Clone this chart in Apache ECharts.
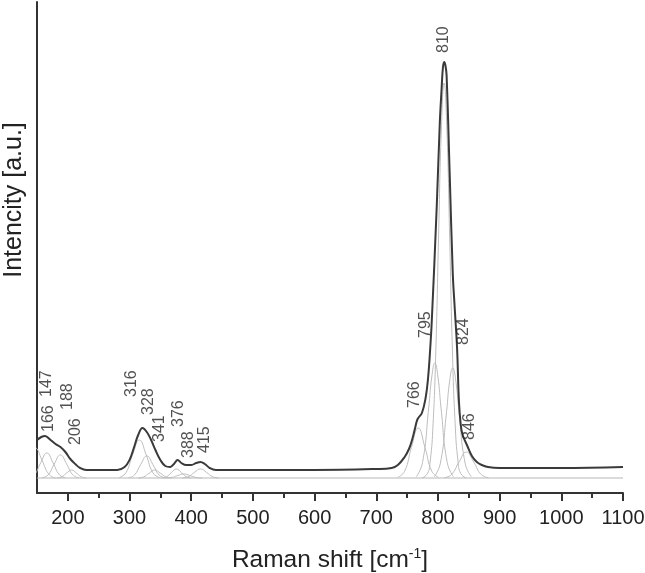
<!DOCTYPE html>
<html style="height: 100%">
<head>
    <meta charset="utf-8">
    <script src="https://cdn.jsdelivr.net/npm/echarts@6/dist/echarts.min.js"></script>
</head>
<body style="height: 100%; margin: 0; background: #fff">
    <div id="main" style="width: 645px; height: 573px"></div>
    <script type="text/javascript">
        // measured spectrum (arbitrary units)
        var total = [
            [150, 53], [157, 56], [163, 57], [172, 53], [180, 49], [188, 46], [196, 41], [204, 34],
            [212, 29], [220, 25], [230, 23], [250, 23], [280, 23], [292, 26], [300, 33], [307, 45],
            [314, 58], [321, 65], [328, 61], [335, 53], [342, 43], [350, 33], [358, 27], [366, 26],
            [372, 29], [378, 33], [384, 30], [392, 28], [400, 28], [408, 30], [415, 31], [422, 29],
            [430, 25], [440, 23], [500, 23], [600, 23], [700, 24], [725, 25], [735, 28], [746, 36],
            [753, 44], [758, 53], [763, 65], [767, 74], [774, 80], [780, 95], [784, 115], [787, 140],
            [790, 172], [798, 286], [803, 370], [806, 405], [808, 425], [810, 431], [812, 428],
            [814, 418], [819, 320], [824, 220], [827, 187], [831, 145], [834, 92], [837, 68],
            [840, 58], [847, 48], [855, 37], [863, 31], [871, 28], [881, 26], [900, 25],
            [1000, 25], [1100, 26]
        ];

        // fitted component bands
        var c147 = [[125, 19], [136, 33], [147, 45], [158, 33], [164, 24], [169, 19], [175, 16], [180, 15]];
        var c166 = [[136, 15.3], [146, 18.4], [156, 30.2], [166, 40], [176, 30.2], [186, 18.4], [196, 15.3]];
        var c188 = [[158, 15.3], [168, 18.1], [178, 29], [188, 38], [198, 29], [208, 18.1], [218, 15.3]];
        var c206 = [[182, 15], [190, 16.1], [198, 19.9], [206, 23], [214, 19.9], [222, 16.1], [230, 15]];
        var c316 = [[283, 15.4], [294, 20.1], [305, 38.2], [316, 53], [327, 38.2], [338, 20.1], [349, 15.4]];
        var c328 = [[298, 15.2], [308, 18], [318, 28.4], [328, 37], [338, 28.4], [348, 18], [358, 15.2]];
        var c341 = [[314, 15], [323, 16.1], [332, 19.9], [341, 23], [350, 19.9], [359, 16.1], [368, 15]];
        var c376 = [[352, 15], [360, 16.2], [368, 20.5], [376, 24], [384, 20.5], [392, 16.2], [400, 15]];
        var c388 = [[358, 15], [368, 15.5], [378, 17.4], [388, 19], [398, 17.4], [408, 15.5], [418, 15]];
        var c415 = [[385, 15], [395, 16.2], [405, 20.5], [415, 24], [425, 20.5], [435, 16.2], [445, 15]];
        var c766 = [[735, 15.6], [746, 21.8], [757, 45.5], [768, 65], [779, 45.5], [790, 21.8], [801, 15.6]];
        var c795 = [[765, 16.3], [775, 30.5], [785, 85], [790, 116], [795, 130], [800, 116], [805, 85], [815, 30.5], [825, 16.3]];
        var c810 = [[774, 15], [783, 19.4], [787.5, 32], [792, 68], [796.5, 141], [801, 256], [805.5, 363], [810, 410],
                    [814.5, 363], [819, 256], [823.5, 141], [828, 68], [832.5, 32], [837, 19.4], [846, 15]];
        var c824 = [[794, 16.2], [804, 29.9], [814, 81.7], [819, 112], [824, 125], [829, 112], [834, 81.7], [844, 29.9], [854, 16.2]];
        var c846 = [[810, 15.3], [822, 18.5], [834, 30.8], [846, 41], [858, 30.8], [870, 18.5], [882, 15.3]];
        var baseline = [[150, 15], [1100, 15]];

        var peakNames = ['147', '166', '188', '206', '316', '328', '341', '376', '388', '415', '766', '795', '810', '824', '846'];
        var peakLabelAt = [[165, 96], [169, 61], [199, 83], [212, 48], [303, 96], [331, 78], [348, 51], [380, 66],
                           [396, 35], [421, 40], [762, 85], [780, 155], [809, 440], [841, 148], [852, 53]];

        var majorTicks = [200, 300, 400, 500, 600, 700, 800, 900, 1000, 1100];
        var minorTicks = [250, 350, 450, 550, 650, 750, 850, 950, 1050];

        var components = [c147, c166, c188, c206, c316, c328, c341, c376, c388, c415, c766, c795, c810, c824, c846];

        var chartDom = document.getElementById('main');
        var myChart = echarts.init(chartDom);
        var font = 'Liberation Sans, Arial, sans-serif';

        var series = [];
        series.push({
            type: 'line', data: baseline, symbol: 'none', silent: true,
            lineStyle: { color: '#b8b8b8', width: 1.2 }, z: 1
        });
        components.forEach(function (c) {
            series.push({
                type: 'line', data: c, symbol: 'none', smooth: true, silent: true,
                lineStyle: { color: '#bdbdbd', width: 1 }, z: 2
            });
        });
        series.push({
            type: 'line', data: total, symbol: 'none', smooth: 0.4, silent: true,
            lineStyle: { color: '#3a3a3a', width: 2 }, z: 5
        });
        series.push({
            type: 'scatter', symbolSize: 0, silent: true, z: 6,
            data: peakLabelAt.map(function (p, i) {
                return { value: p, name: peakNames[i] };
            }),
            label: {
                show: true, position: [0, 0], rotate: 90, align: 'left', verticalAlign: 'middle',
                formatter: '{b}', fontSize: 16, color: '#262626', fontFamily: font
            }
        });

        var option = {
            animation: false,
            grid: { left: 37, right: 22, top: 2, bottom: 80, outerBoundsMode: 'none' },
            xAxis: [
                {
                    type: 'value', min: 150, max: 1100, position: 'bottom',
                    name: 'Raman shift [cm{sup|-1}]', nameLocation: 'middle', nameGap: 54,
                    nameTextStyle: {
                        fontSize: 24.5, color: '#222', fontFamily: font,
                        rich: { sup: { fontSize: 14, color: '#222', fontFamily: font, padding: [0, 0, 12, 0] } }
                    },
                    axisLine: { onZero: false, lineStyle: { color: '#333', width: 2 } },
                    axisTick: { customValues: majorTicks, length: 8, lineStyle: { color: '#333', width: 2 } },
                    axisLabel: {
                        customValues: majorTicks, fontSize: 20, margin: 15, color: '#222', fontFamily: font,
                        formatter: function (v) { return String(v); }
                    },
                    splitLine: { show: false }
                },
                {
                    type: 'value', min: 150, max: 1100, position: 'bottom',
                    axisLine: { show: false },
                    axisTick: { customValues: minorTicks, length: 5, lineStyle: { color: '#333', width: 2 } },
                    axisLabel: { show: false },
                    splitLine: { show: false }
                }
            ],
            yAxis: {
                type: 'value', min: 0, max: 491,
                name: 'Intencity [a.u.]', nameLocation: 'middle', nameGap: 10,
                nameTextStyle: { fontSize: 25, color: '#222', fontFamily: font, padding: [0, 0, 0, 95] },
                axisLine: { show: true, onZero: false, lineStyle: { color: '#333', width: 2 } },
                axisTick: { show: false },
                axisLabel: { show: false },
                splitLine: { show: false }
            },
            series: series
        };
        myChart.setOption(option);
    </script>
</body>
</html>
